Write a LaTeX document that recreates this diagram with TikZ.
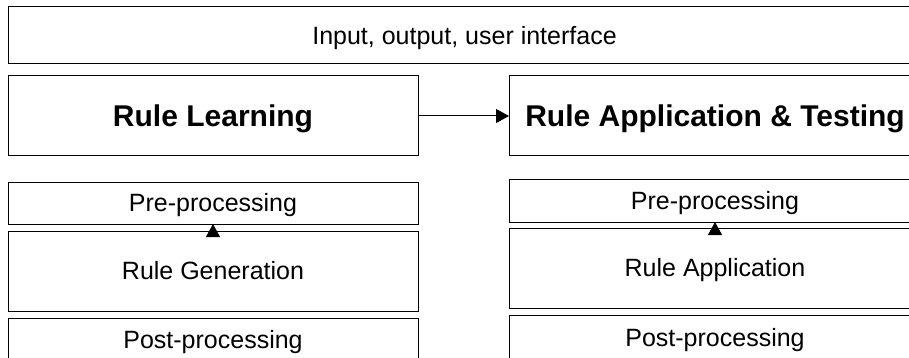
\documentclass[tikz,border=0pt]{standalone}
\usepackage{fontspec}
\setmainfont{Liberation Sans}
\usetikzlibrary{arrows.meta}
\begin{document}
\begin{tikzpicture}[x=1pt,y=-1pt,
  box/.style={draw=black, line width=1pt, inner sep=0pt, outer sep=0pt,
    font=\fontsize{25}{30}\selectfont, text height=17.9pt, text depth=0pt, align=center},
  bigbox/.style={box, font=\fontsize{30}{36}\selectfont\bfseries, text height=21.5pt},
  conn/.style={line width=1pt, -{Triangle[length=13pt,width=14pt]}}]
\useasboundingbox (0,0) rectangle (909,358);
% top
\node[box, minimum width=913pt, minimum height=57pt] (io) at (464.5,35.5) {Input, output, user interface};
% main blocks
\node[bigbox, minimum width=410pt, minimum height=80pt] (rl) at (213,116) {Rule Learning};
\node[bigbox, minimum width=412pt, minimum height=80pt] (ra) at (715,116) {Rule Application \& Testing};
% left column
\node[box, minimum width=410pt, minimum height=42pt] (lpre) at (213,203) {Pre-processing};
\node[box, minimum width=410pt, minimum height=80pt] (lgen) at (213,271) {Rule Generation};
\node[box, minimum width=410pt, minimum height=44pt] (lpost) at (213,340) {Post-processing};
% right column
\node[box, minimum width=412pt, minimum height=43pt] (rpre) at (715,200.5) {Pre-processing};
\node[box, minimum width=412pt, minimum height=80pt] (rapp) at (715,268) {Rule Application};
\node[box, minimum width=412pt, minimum height=45pt] (rpost) at (715,337.5) {Post-processing};
% connectors
\draw[conn] (rl.east) -- (ra.west);
\draw[conn] (lgen.north) -- (lpre.south);
\draw[conn] (rapp.north) -- (rpre.south);
\end{tikzpicture}
\end{document}
